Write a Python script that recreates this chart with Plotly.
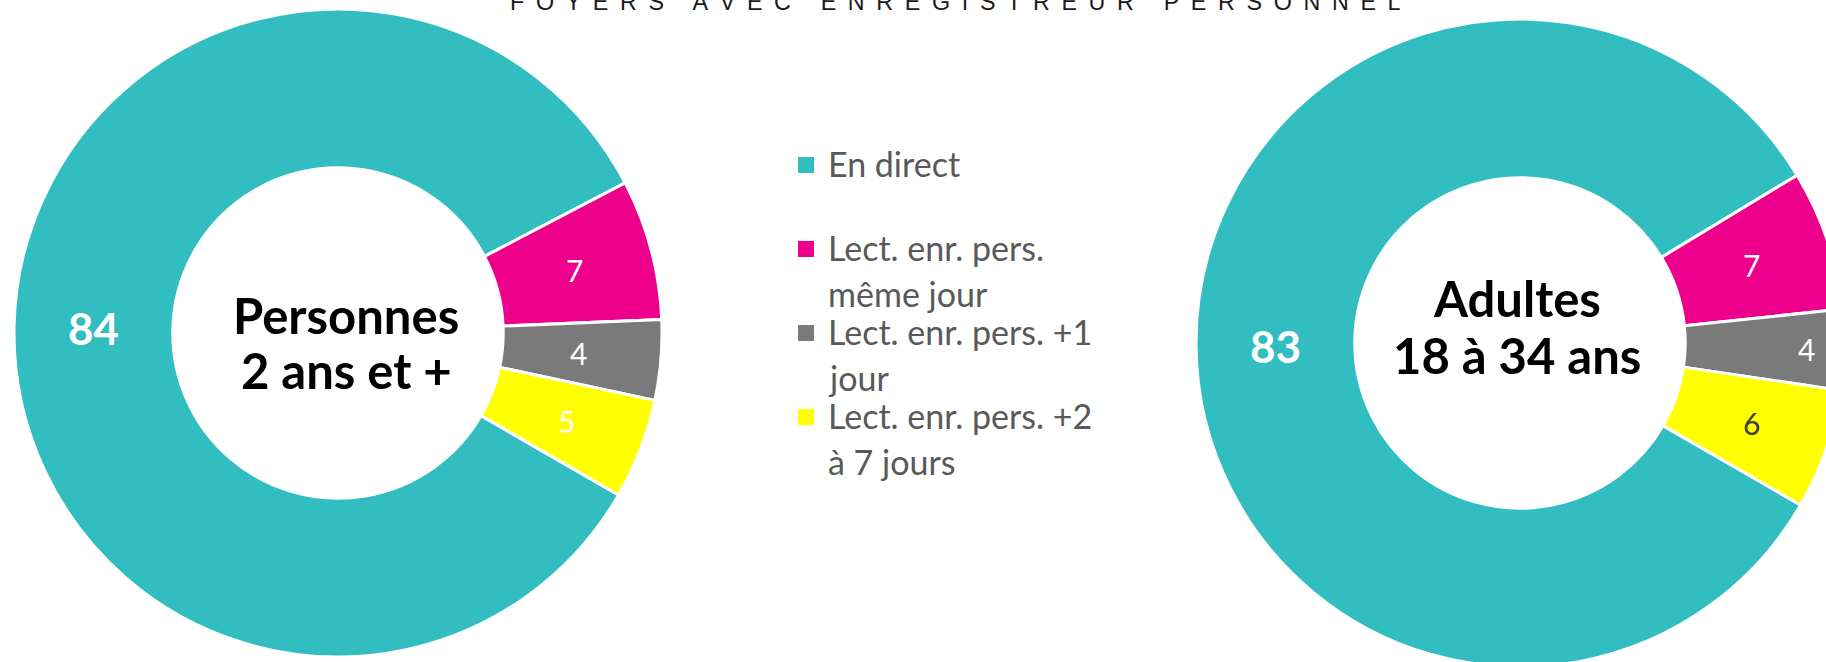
import math
import plotly.graph_objects as go

# ---------------- data ----------------
categories = ["En direct", "Lect. enr. pers. même jour",
              "Lect. enr. pers. +1 jour", "Lect. enr. pers. +2 à 7 jours"]
legend_lines = [["En direct"],
                ["Lect. enr. pers.", "même jour"],
                ["Lect. enr. pers. +1", "jour"],
                ["Lect. enr. pers. +2", "à 7 jours"]]
colors = ["#32BEC0", "#EC008C", "#7A7A7A", "#FFFF00"]

values_personnes = [84, 7, 4, 5]
values_adultes = [83, 7, 4, 6]

center_personnes = ["Personnes", "2 ans et +"]
center_adultes = ["Adultes", "18 à 34 ans"]

title_text = "FOYERS AVEC ENREGISTREUR PERSONNEL"

# ---------------- styling ----------------
label_colors_personnes = ["white", "white", "white", "white"]
label_colors_adultes = ["white", "white", "white", "#404040"]
label_radius_personnes = [0.755, 0.755, 0.745, 0.755]
label_radius_adultes = [0.755, 0.755, 0.885, 0.755]
label_sizes = [44, 30, 30, 30]
ROTATION = 120
HOLE = 0.51

W, H = 1860, 680
def px(x):
    return x / W
def py(y):
    return 1 - y / H

def dom(cx, cy, r):
    return dict(x=[px(cx - r), px(cx + r)], y=[py(cy + r), py(cy - r)])

fig = go.Figure()
annotations = []

def add_donut(values, cx, cy, r, lab_colors, lab_radius):
    fig.add_trace(go.Pie(
        values=values, labels=categories, sort=False,
        direction="clockwise", rotation=ROTATION, hole=HOLE,
        textinfo="none",
        marker=dict(colors=colors, line=dict(color="white", width=3)),
        showlegend=False, hoverinfo="label+value",
        domain=dom(cx, cy, r)))
    # value labels placed at each slice's mid-angle (clockwise from 12 o'clock)
    total = float(sum(values))
    start = ROTATION
    for i, v in enumerate(values):
        span = 360.0 * v / total
        mid = math.radians(start + span / 2)
        start += span
        rr = r * lab_radius[i]
        x = cx + rr * math.sin(mid)
        y = cy - rr * math.cos(mid)
        txt = ("<b>%d</b>" % v) if i == 0 else str(v)
        annotations.append(dict(
            text=txt, x=px(x), y=py(y), xref="paper", yref="paper",
            xanchor="center", yanchor="middle", showarrow=False,
            font=dict(family="Lato", size=label_sizes[i], color=lab_colors[i])))

add_donut(values_personnes, 338, 333, 324, label_colors_personnes, label_radius_personnes)
add_donut(values_adultes, 1520, 343, 324, label_colors_adultes, label_radius_adultes)

# centre labels
def center_lines(lines, cx, y0, pitch):
    for i, t in enumerate(lines):
        annotations.append(dict(
            text="<b>%s</b>" % t, x=px(cx), y=py(y0 + i * pitch),
            xref="paper", yref="paper", xanchor="center", yanchor="middle",
            showarrow=False, font=dict(family="Lato", size=49, color="black")))

center_lines(center_personnes, 346, 315, 55)
center_lines(center_adultes, 1517, 298, 57)

# title (letter-spaced, partly cut off at the top like the reference)
spaced = "\u2002".join(title_text).replace("\u2002 \u2002", "\u2002\u2002 ")
annotations.append(dict(
    text=spaced, x=px(955), y=py(17), xref="paper", yref="paper",
    xanchor="center", yanchor="bottom", showarrow=False,
    font=dict(family="Liberation Sans", size=23.3, color="#1a1a1a")))

# custom legend
shapes = []
leg_x_box = 798
leg_x_text = 826
leg_y0 = 163
item_pitch = 84
line_pitch = 46
sw = 16
for i, lines in enumerate(legend_lines):
    yc = leg_y0 + i * item_pitch
    shapes.append(dict(type="rect", xref="paper", yref="paper",
                       x0=px(leg_x_box), x1=px(leg_x_box + sw),
                       y0=py(yc + sw / 2 + 2), y1=py(yc - sw / 2 + 2),
                       fillcolor=colors[i], line=dict(width=0)))
    for j, t in enumerate(lines):
        annotations.append(dict(
            text=t, x=px(leg_x_text), y=py(yc + j * line_pitch),
            xref="paper", yref="paper", xanchor="left", yanchor="middle",
            showarrow=False, font=dict(family="Lato", size=34, color="#595959")))

fig.update_layout(
    width=W, height=H,
    margin=dict(l=0, r=0, t=0, b=0),
    paper_bgcolor="white", plot_bgcolor="white",
    annotations=annotations, shapes=shapes,
    showlegend=False,
)

fig.write_html(
    "out.html",
    config={"displayModeBar": False},
    post_script="document.body.style.margin='0';document.body.style.overflow='hidden';document.documentElement.style.overflow='hidden';",
)
